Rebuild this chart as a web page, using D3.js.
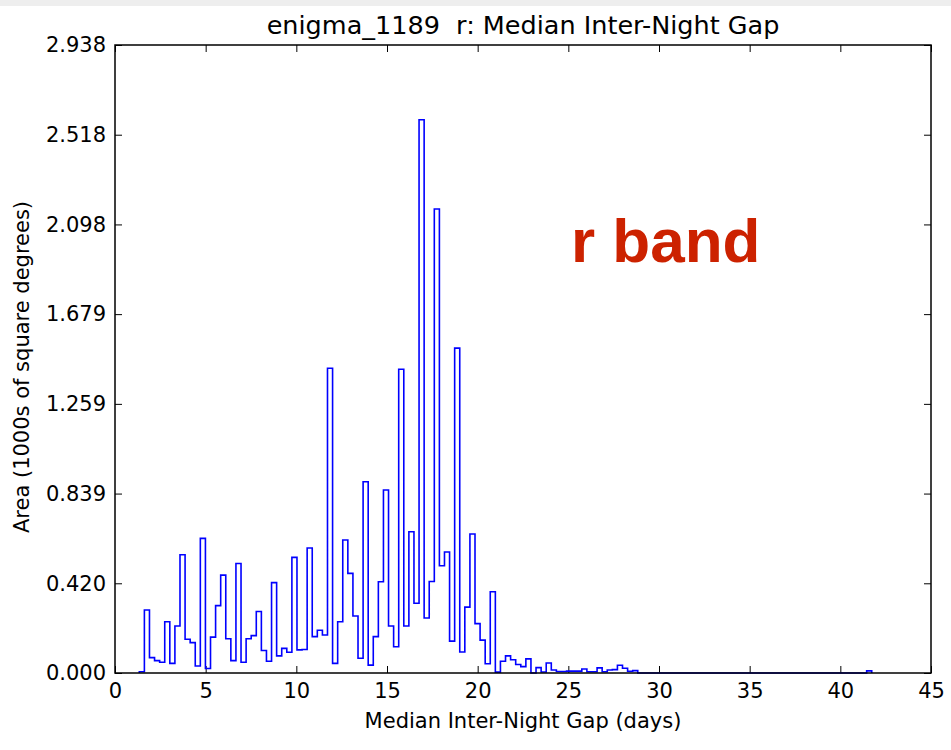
<!DOCTYPE html>
<html>
<head>
<meta charset="utf-8">
<script src="https://cdn.jsdelivr.net/npm/d3@7"></script>
<style>
  body { margin: 0; background: #fff; }
  svg text { font-family: "DejaVu Sans", sans-serif; fill: #000; }
</style>
</head>
<body>
<div id="chart"></div>
<script>
// histogram bins (days) and area per bin (1000s of sq deg)
const binStart = 1.34;
const binWidth = 0.2805;
const areaValues = [
  0.006, 0.295, 0.072, 0.058, 0.050, 0.240, 0.045, 0.220, 0.553, 0.158,
  0.142, 0.033, 0.630, 0.021, 0.168, 0.315, 0.458, 0.160, 0.058, 0.512,
  0.050, 0.160, 0.175, 0.288, 0.105, 0.055, 0.423, 0.080, 0.115, 0.097,
  0.541, 0.108, 0.110, 0.585, 0.170, 0.200, 0.178, 1.426, 0.045, 0.240,
  0.622, 0.466, 0.267, 0.069, 0.895, 0.037, 0.170, 0.427, 0.856, 0.220,
  0.123, 1.421, 0.220, 0.661, 0.326, 2.588, 0.257, 0.428, 2.171, 0.502,
  0.566, 0.149, 1.520, 0.098, 0.308, 0.650, 0.231, 0.154, 0.043, 0.380,
  0.004, 0.055, 0.080, 0.062, 0.040, 0.030, 0.066, 0.000, 0.025, 0.005,
  0.047, 0.014, 0.007, 0.007, 0.009, 0.009, 0.009, 0.019, 0.006, 0.006,
  0.024, 0.006, 0.014, 0.016, 0.036, 0.022, 0.008, 0.011, 0.000, 0.000,
  0.000, 0.000, 0.000, 0.000, 0.000, 0.000, 0.000, 0.000, 0.000, 0.000,
  0.000, 0.000, 0.000, 0.000, 0.000, 0.000, 0.000, 0.000, 0.000, 0.000,
  0.000, 0.000, 0.000, 0.000, 0.000, 0.000, 0.000, 0.000, 0.000, 0.000,
  0.000, 0.000, 0.000, 0.000, 0.000, 0.000, 0.000, 0.000, 0.000, 0.000,
  0.000, 0.000, 0.000, 0.010
];

const xTicks = [0, 5, 10, 15, 20, 25, 30, 35, 40, 45];
const yMax = 2.938;
const yTicks = [0, 0.4197, 0.8394, 1.2591, 1.6789, 2.0986, 2.5183, 2.938];
const yTickLabels = ["0.000", "0.420", "0.839", "1.259", "1.679", "2.098", "2.518", "2.938"];

const svgWidth = 951;
const svgHeight = 750;
const margin = { top: 45, right: 20, bottom: 77, left: 115 };
const width = svgWidth - margin.left - margin.right;
const height = svgHeight - margin.top - margin.bottom;

const svg = d3.select("#chart")
  .append("svg")
  .attr("width", svgWidth)
  .attr("height", svgHeight);

// thin grey strip along the top of the screenshot
svg.append("rect")
  .attr("width", svgWidth)
  .attr("height", 6)
  .attr("fill", "#eeeeee");

const chartGroup = svg.append("g")
  .attr("transform", `translate(${margin.left}, ${margin.top})`);

const x = d3.scaleLinear().domain([0, 45]).range([0, width]);
const y = d3.scaleLinear().domain([0, yMax]).range([height, 0]);

// axes, ticks pointing inward like matplotlib classic
const tickLen = 7;
chartGroup.append("g")
  .attr("class", "x-axis")
  .attr("transform", `translate(0, ${height})`)
  .call(d3.axisBottom(x).tickValues(xTicks).tickSize(-tickLen).tickPadding(10).tickFormat(d3.format("d")));

chartGroup.append("g")
  .call(d3.axisTop(x).tickValues(xTicks).tickSize(-tickLen).tickFormat(""));

chartGroup.append("g")
  .attr("class", "y-axis")
  .call(d3.axisLeft(y).tickValues(yTicks).tickSize(-tickLen).tickPadding(9)
    .tickFormat((d, i) => yTickLabels[i]));

chartGroup.append("g")
  .attr("transform", `translate(${width}, 0)`)
  .call(d3.axisRight(y).tickValues(yTicks).tickSize(-tickLen).tickFormat(""));

chartGroup.selectAll(".domain").remove();
chartGroup.selectAll(".tick line").attr("stroke", "#000").attr("stroke-width", 1);
chartGroup.selectAll(".tick text").style("font-size", "21px").attr("fill", "#111");

// step histogram outline
const pts = [[binStart, 0]];
areaValues.forEach((v, i) => {
  pts.push([binStart + i * binWidth, v]);
  pts.push([binStart + (i + 1) * binWidth, v]);
});
pts.push([binStart + areaValues.length * binWidth, 0]);

const stepLine = d3.line()
  .x(d => x(d[0]))
  .y(d => y(d[1]));

chartGroup.append("path")
  .datum(pts)
  .attr("d", stepLine)
  .attr("fill", "none")
  .attr("stroke", "#0000ff")
  .attr("stroke-width", 1.6)
  .attr("stroke-linejoin", "miter");

// frame
chartGroup.append("rect")
  .attr("width", width)
  .attr("height", height)
  .attr("fill", "none")
  .attr("stroke", "#000")
  .attr("stroke-width", 1.5);

// title and labels
svg.append("text")
  .attr("x", margin.left + width / 2)
  .attr("y", 34)
  .attr("text-anchor", "middle")
  .style("font-size", "25.5px")
  .style("white-space", "pre")
  .text("enigma_1189  r: Median Inter-Night Gap");

svg.append("text")
  .attr("x", margin.left + width / 2)
  .attr("y", 728)
  .attr("text-anchor", "middle")
  .style("font-size", "21px")
  .attr("fill", "#111")
  .text("Median Inter-Night Gap (days)");

svg.append("text")
  .attr("transform", "translate(29, 367) rotate(-90)")
  .attr("text-anchor", "middle")
  .style("font-size", "21px")
  .attr("fill", "#111")
  .text("Area (1000s of square degrees)");

svg.append("text")
  .attr("x", 571)
  .attr("y", 262)
  .style("font-family", "'Liberation Sans', Arial, sans-serif")
  .style("font-weight", "bold")
  .style("font-size", "62px")
  .style("fill", "#cc2200")
  .text("r band");
</script>
</body>
</html>
